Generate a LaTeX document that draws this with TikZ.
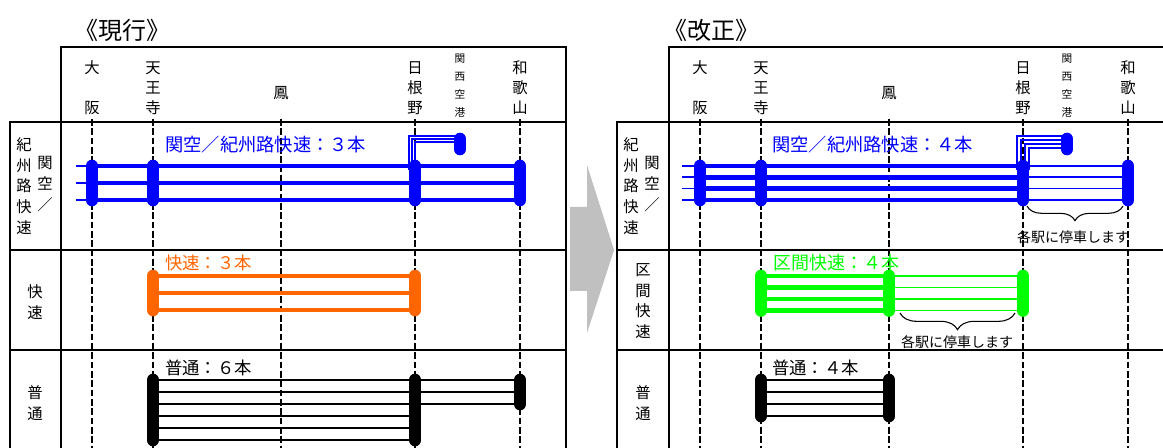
\documentclass[tikz,border=0pt]{standalone}
\usepackage{fontspec}
\setmainfont{Noto Sans CJK JP}
\usetikzlibrary{positioning}
\usetikzlibrary{decorations.pathreplacing}
\definecolor{kblue}{RGB}{0,0,255}
\definecolor{korange}{RGB}{255,102,0}
\definecolor{kgreen}{RGB}{0,255,0}
\definecolor{arrowgray}{RGB}{192,192,192}
\tikzset{tblframe/.style={draw=black,line width=1.8pt}}
\tikzset{stnline/.style={draw=black,line width=1.9pt,dash pattern=on 5pt off 2pt}}
\tikzset{stnlbl/.style={align=center,inner sep=0pt,font=\fontsize{11.5}{15}\selectfont}}
\tikzset{smallstnlbl/.style={align=center,inner sep=0pt,font=\fontsize{8}{13.5}\selectfont}}
\tikzset{rowlbl/.style={align=center,inner sep=0pt,font=\fontsize{11.5}{15.5}\selectfont}}
\tikzset{trainlbl/.style={anchor=west,inner sep=0pt,font=\fontsize{#1}{15}\selectfont},trainlbl/.default=13}
\tikzset{headtitle/.style={inner sep=0pt,font=\fontsize{18}{20}\selectfont}}
\tikzset{stopnote/.style={inner sep=0pt,font=\fontsize{10.5}{12}\selectfont}}
\tikzset{fastline/.style={line width=3.6pt}}
\tikzset{slowline/.style={line width=1.2pt}}
\tikzset{localline/.style={line width=1.5pt}}
\tikzset{branchline/.style={line width=0.8pt}}
\tikzset{stopbar/.style={line width=9.5pt,line cap=round}}
\tikzset{stopbrace/.style={draw=black,decorate,decoration={brace,mirror,amplitude=#1},line width=0.8pt}}

\begin{document}
\begin{tikzpicture}[x=0.75pt,y=-0.75pt]

    \useasboundingbox (0,0) rectangle (1163,448);
    \fill[white] (0,0) rectangle (1163,448);

    \node[headtitle] (nowTitle) at (122,30) {《現行》};
    \node[headtitle] (newTitle) at (711,30) {《改正》};

    % current timetable
    \node[stnlbl] (osakaL) at (92,88) {大\\[15pt]阪};
    \node[stnlbl] (tennojiL) at (153,88) {天\\王\\寺};
    \node[stnlbl] (otoriL) at (281,93) {鳳};
    \node[stnlbl] (hinenoL) at (415,88) {日\\根\\野};
    \node[smallstnlbl] (kankuL) at (460,86) {関\\西\\空\\港};
    \node[stnlbl] (wakayamaL) at (520,88) {和\\歌\\山};

    \draw[stnline] (osakaL |- 0,119) -- (osakaL |- 0,448)
        (tennojiL |- 0,119) -- (tennojiL |- 0,448)
        (otoriL |- 0,119) -- (otoriL |- 0,448)
        (hinenoL |- 0,119) -- (hinenoL |- 0,448)
        (wakayamaL |- 0,119) -- (wakayamaL |- 0,448);

    \draw[tblframe] (61,448) -- (61,47) -- (566,47) -- (566,448);
    \draw[tblframe] (10,448) -- (10,122) -- (566,122);
    \draw[tblframe] (10,250) -- (566,250) (10,350) -- (566,350);

    \node[rowlbl] (kishuRowL) at (24,186) {紀\\州\\路\\快\\速};
    \node[rowlbl] (kankuRowL) at (45,184) {関\\空\\／};
    \node[rowlbl] (rapidRowL) at (35,302) {快\\速};
    \node[rowlbl] (localRowL) at (35,403) {普\\通};

    \node[trainlbl=13.7,text=kblue] (kishuTxtL) at (165,145) {関空／紀州路快速：３本};
    \node[trainlbl,text=korange] (rapidTxtL) at (165,263) {快速：３本};
    \node[trainlbl] (localTxtL) at (165,368) {普通：６本};

    \draw[kblue,slowline] (76,166) -- (osakaL |- 0,166) (76,183) -- (osakaL |- 0,183) (76,200) -- (osakaL |- 0,200);
    \draw[kblue,fastline] (osakaL |- 0,166) -- (wakayamaL |- 0,166)
        (osakaL |- 0,183) -- (wakayamaL |- 0,183)
        (osakaL |- 0,200) -- (wakayamaL |- 0,200);
    \draw[kblue,branchline] (409,170) -- (409,136) -- (kankuL |- 0,136)
        (412,170) -- (412,139) -- (kankuL |- 0,139)
        (415,170) -- (415,142) -- (kankuL |- 0,142);
    \draw[kblue,stopbar] (osakaL |- 0,166) -- (osakaL |- 0,200)
        (tennojiL |- 0,166) -- (tennojiL |- 0,200)
        (hinenoL |- 0,166) -- (hinenoL |- 0,200)
        (wakayamaL |- 0,166) -- (wakayamaL |- 0,200)
        (kankuL |- 0,139) -- (kankuL |- 0,149);

    \draw[korange,fastline] (tennojiL |- 0,276) -- (hinenoL |- 0,276)
        (tennojiL |- 0,293) -- (hinenoL |- 0,293)
        (tennojiL |- 0,310) -- (hinenoL |- 0,310);
    \draw[korange,stopbar] (tennojiL |- 0,276) -- (tennojiL |- 0,310)
        (hinenoL |- 0,276) -- (hinenoL |- 0,310);

    \draw[black,localline] (tennojiL |- 0,380) -- (hinenoL |- 0,380)
        (tennojiL |- 0,392) -- (hinenoL |- 0,392)
        (tennojiL |- 0,404) -- (hinenoL |- 0,404)
        (tennojiL |- 0,416) -- (hinenoL |- 0,416)
        (tennojiL |- 0,428) -- (hinenoL |- 0,428)
        (tennojiL |- 0,440) -- (hinenoL |- 0,440);
    \draw[black,localline] (hinenoL |- 0,380) -- (wakayamaL |- 0,380)
        (hinenoL |- 0,392) -- (wakayamaL |- 0,392)
        (hinenoL |- 0,404) -- (wakayamaL |- 0,404);
    \draw[black,stopbar] (tennojiL |- 0,380) -- (tennojiL |- 0,440)
        (hinenoL |- 0,380) -- (hinenoL |- 0,440)
        (wakayamaL |- 0,380) -- (wakayamaL |- 0,404);

    % arrow
    \fill[arrowgray] (570,207) -- (587,207) -- (587,165) -- (614,250) -- (587,333) -- (587,291) -- (570,291) -- cycle;

    % revised timetable
    \node[stnlbl] (osakaR) at (700,88) {大\\[15pt]阪};
    \node[stnlbl] (tennojiR) at (761,88) {天\\王\\寺};
    \node[stnlbl] (otoriR) at (889,93) {鳳};
    \node[stnlbl] (hinenoR) at (1023,88) {日\\根\\野};
    \node[smallstnlbl] (kankuR) at (1067,86) {関\\西\\空\\港};
    \node[stnlbl] (wakayamaR) at (1128,88) {和\\歌\\山};

    \draw[stnline] (osakaR |- 0,119) -- (osakaR |- 0,448)
        (tennojiR |- 0,119) -- (tennojiR |- 0,448)
        (otoriR |- 0,119) -- (otoriR |- 0,448)
        (hinenoR |- 0,119) -- (hinenoR |- 0,448)
        (wakayamaR |- 0,119) -- (wakayamaR |- 0,448);

    \draw[tblframe] (669,448) -- (669,47) -- (1163,47);
    \draw[tblframe] (617,448) -- (617,122) -- (1163,122);
    \draw[tblframe] (617,250) -- (1163,250) (617,350) -- (1163,350);

    \node[rowlbl] (kishuRowR) at (631,186) {紀\\州\\路\\快\\速};
    \node[rowlbl] (kankuRowR) at (652,184) {関\\空\\／};
    \node[rowlbl] (semiRowR) at (643,301) {区\\間\\快\\速};
    \node[rowlbl] (localRowR) at (643,403) {普\\通};

    \node[trainlbl=13.7,text=kblue] (kishuTxtR) at (772,145) {関空／紀州路快速：４本};
    \node[trainlbl=13.5,text=kgreen] (semiTxtR) at (773,263) {区間快速：４本};
    \node[trainlbl] (localTxtR) at (772,368) {普通：４本};

    \draw[kblue,slowline] (682,166) -- (osakaR |- 0,166) (682,177.3) -- (osakaR |- 0,177.3)
        (682,188.7) -- (osakaR |- 0,188.7) (682,200) -- (osakaR |- 0,200);
    \draw[kblue,fastline] (osakaR |- 0,166) -- (hinenoR |- 0,166)
        (osakaR |- 0,177.3) -- (hinenoR |- 0,177.3)
        (osakaR |- 0,188.7) -- (hinenoR |- 0,188.7)
        (osakaR |- 0,200) -- (hinenoR |- 0,200);
    \draw[kblue,slowline] (hinenoR |- 0,166) -- (wakayamaR |- 0,166)
        (hinenoR |- 0,177.3) -- (wakayamaR |- 0,177.3)
        (hinenoR |- 0,188.7) -- (wakayamaR |- 0,188.7)
        (hinenoR |- 0,200) -- (wakayamaR |- 0,200);
    \draw[kblue,branchline] (1017,170) -- (1017,136) -- (kankuR |- 0,136)
        (1021,170) -- (1021,140) -- (kankuR |- 0,140)
        (1025,170) -- (1025,144) -- (kankuR |- 0,144)
        (1029,170) -- (1029,148) -- (kankuR |- 0,148);
    \draw[kblue,stopbar] (osakaR |- 0,166) -- (osakaR |- 0,200)
        (tennojiR |- 0,166) -- (tennojiR |- 0,200)
        (hinenoR |- 0,166) -- (hinenoR |- 0,200)
        (wakayamaR |- 0,166) -- (wakayamaR |- 0,200)
        (kankuR |- 0,139) -- (kankuR |- 0,149);
    \draw[stopbrace=11pt] (1027,206) -- (1123,206);
    \node[stopnote] (noteR1) at (1073,237) {各駅に停車します};

    \draw[kgreen,fastline] (tennojiR |- 0,276) -- (otoriR |- 0,276)
        (tennojiR |- 0,287.5) -- (otoriR |- 0,287.5)
        (tennojiR |- 0,299) -- (otoriR |- 0,299)
        (tennojiR |- 0,310.5) -- (otoriR |- 0,310.5);
    \draw[kgreen,slowline] (otoriR |- 0,276) -- (hinenoR |- 0,276)
        (otoriR |- 0,287.5) -- (hinenoR |- 0,287.5)
        (otoriR |- 0,299) -- (hinenoR |- 0,299)
        (otoriR |- 0,310.5) -- (hinenoR |- 0,310.5);
    \draw[kgreen,stopbar] (tennojiR |- 0,276) -- (tennojiR |- 0,310.5)
        (otoriR |- 0,276) -- (otoriR |- 0,310.5)
        (hinenoR |- 0,276) -- (hinenoR |- 0,310.5);
    \draw[stopbrace=12.5pt] (900,313) -- (1015,313);
    \node[stopnote] (noteR2) at (957,342) {各駅に停車します};

    \draw[black,localline] (tennojiR |- 0,380) -- (otoriR |- 0,380)
        (tennojiR |- 0,392) -- (otoriR |- 0,392)
        (tennojiR |- 0,404) -- (otoriR |- 0,404)
        (tennojiR |- 0,416) -- (otoriR |- 0,416);
    \draw[black,stopbar] (tennojiR |- 0,380) -- (tennojiR |- 0,416)
        (otoriR |- 0,380) -- (otoriR |- 0,416);

\end{tikzpicture}
\end{document}
